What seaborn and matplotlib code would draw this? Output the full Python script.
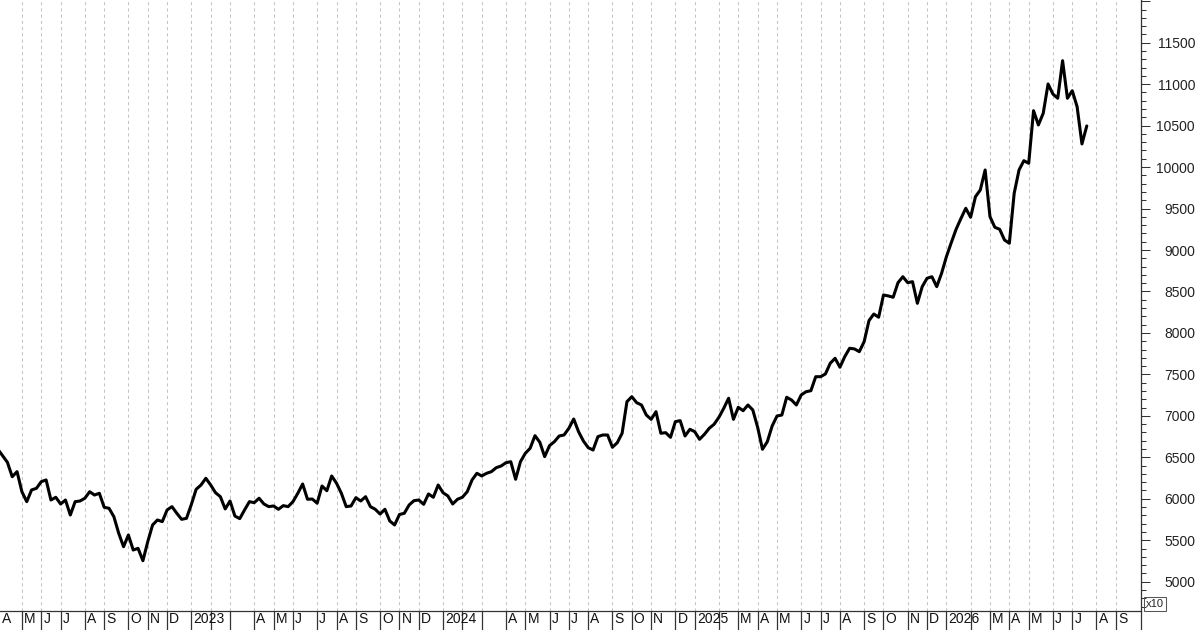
import numpy as np
import pandas as pd
import matplotlib
matplotlib.use('Agg')
import matplotlib.pyplot as plt
from matplotlib.patches import Rectangle
from matplotlib.ticker import MultipleLocator
import seaborn as sns

# weekly closes (fridays), first week = 2022-04-01
start_date = '2022-04-01'
n_axis_weeks = 235  # date axis runs to the end of Sep 2026

close = [
    6600, 6520, 6440, 6266, 6327, 6085, 5965, 6106, 6126, 6206,
    6227, 5985, 6018, 5937, 5985, 5804, 5965, 5973, 6006, 6085,
    6045, 6066, 5897, 5885, 5784, 5584, 5422, 5563, 5382, 5402,
    5253, 5482, 5684, 5744, 5724, 5865, 5905, 5825, 5752, 5764,
    5930, 6114, 6166, 6247, 6166, 6073, 6025, 5877, 5973, 5792,
    5760, 5865, 5965, 5953, 6006, 5937, 5905, 5913, 5873, 5917,
    5905, 5965, 6066, 6178, 5994, 5997, 5946, 6154, 6097, 6275,
    6187, 6066, 5905, 5913, 6013, 5973, 6025, 5905, 5873, 5816,
    5873, 5732, 5684, 5810, 5825, 5925, 5977, 5985, 5933, 6058,
    6018, 6166, 6073, 6034, 5937, 5994, 6018, 6085, 6227, 6307,
    6275, 6307, 6327, 6375, 6395, 6435, 6447, 6235, 6447, 6548,
    6609, 6761, 6681, 6508, 6640, 6688, 6757, 6769, 6850, 6962,
    6809, 6697, 6616, 6588, 6749, 6769, 6769, 6621, 6676, 6790,
    7171, 7231, 7159, 7131, 7010, 6958, 7050, 6790, 6797, 6741,
    6930, 6942, 6757, 6838, 6809, 6717, 6777, 6850, 6898, 6983,
    7091, 7212, 6958, 7103, 7062, 7131, 7071, 6862, 6597, 6688,
    6878, 6998, 7010, 7224, 7191, 7131, 7252, 7291, 7303, 7472,
    7472, 7505, 7634, 7694, 7586, 7714, 7815, 7807, 7774, 7894,
    8148, 8228, 8189, 8458, 8446, 8430, 8606, 8678, 8606, 8618,
    8357, 8558, 8659, 8678, 8558, 8719, 8920, 9088, 9250, 9380,
    9503, 9395, 9643, 9724, 9965, 9402, 9274, 9250, 9121, 9081,
    9684, 9965, 10077, 10046, 10680, 10508, 10649, 11002, 10881, 10830,
    11283, 10830, 10921, 10728, 10279, 10496,
]

month_letters = ['J', 'F', 'M', 'A', 'M', 'J', 'J', 'A', 'S', 'O', 'N', 'D']
y_major = list(range(5000, 12001, 500))
y_labels = [str(v) if v < 12000 else '' for v in y_major]

# layout in pixels
W, H = 1200, 630
AX_RIGHT = 1141
STRIP_H = 19.3
X_LIM = (0.475, 236.2)
Y_LIM = (4650, 12015)
DARK = '#333333'

sns.set_style('white')
plt.rcParams['font.family'] = ['Liberation Sans', 'DejaVu Sans']

dates = pd.date_range(start_date, periods=n_axis_weeks, freq='W-FRI')
df = pd.DataFrame({'week': np.arange(len(close)), 'close': close})

fig = plt.figure(figsize=(W / 100, H / 100), dpi=100)
ax = fig.add_axes([0, STRIP_H / H, AX_RIGHT / W, 1 - STRIP_H / H])
strip = fig.add_axes([0, 0, AX_RIGHT / W, STRIP_H / H])

# first friday of every month
months = dates.month
bounds = [0] + [i for i in range(1, len(dates)) if months[i] != months[i - 1]]

for b in bounds:
    ax.axvline(b, color='#c4c4c4', lw=0.75, ls=(0, (3, 3)), zorder=0)
    strip.axvline(b, color=DARK, lw=0.9)

sns.lineplot(data=df, x='week', y='close', ax=ax, color='black',
             linewidth=2.2, zorder=3)

ax.set_xlim(*X_LIM)
ax.set_ylim(*Y_LIM)
ax.set_xlabel('')
ax.set_ylabel('')
ax.set_xticks([])

for side in ['top', 'left', 'bottom']:
    ax.spines[side].set_visible(False)
ax.spines['right'].set_color(DARK)
ax.spines['right'].set_linewidth(0.9)

ax.yaxis.set_ticks_position('right')
ax.set_yticks(y_major)
ax.set_yticklabels(y_labels)
ax.yaxis.set_minor_locator(MultipleLocator(100))
ax.tick_params(axis='y', which='both', right=True, left=False,
               labelright=True, labelleft=False, direction='out',
               color=DARK, width=0.75)
ax.tick_params(axis='y', which='major', length=6.5, pad=32.4,
               labelsize=10, labelcolor='#222222')
ax.tick_params(axis='y', which='minor', length=3.6)
for lab in ax.get_yticklabels():
    lab.set_horizontalalignment('right')

# month strip under the chart
strip.set_xlim(*X_LIM)
strip.set_ylim(0, 1)
strip.set_xticks([])
strip.set_yticks([])
for side in ['left', 'bottom']:
    strip.spines[side].set_visible(False)
for side in ['top', 'right']:
    strip.spines[side].set_color(DARK)
    strip.spines[side].set_linewidth(0.9)

jan_i = None
for b in bounds:
    d = dates[b]
    if d.month == 1:
        label = str(d.year)
        jan_i = b
    elif d.month == 2:
        continue
    elif d.month == 3 and jan_i is not None and b - jan_i < 9:
        continue
    else:
        label = month_letters[d.month - 1]
    strip.annotate(label, (max(b, X_LIM[0]), 0.347), xytext=(1.5, 0),
                   textcoords='offset points', ha='left', va='baseline',
                   fontsize=10, color='#111111')

# x10 multiplier box
fig.patches.append(Rectangle((1144 / W, STRIP_H / H), 22 / W, 14 / H,
                             transform=fig.transFigure, fill=False,
                             edgecolor='#555555', lw=0.75))
fig.text(1146 / W, 23 / H, 'x10', fontsize=8, color='#222222',
         ha='left', va='baseline')

fig.savefig('out.png', dpi=100)
